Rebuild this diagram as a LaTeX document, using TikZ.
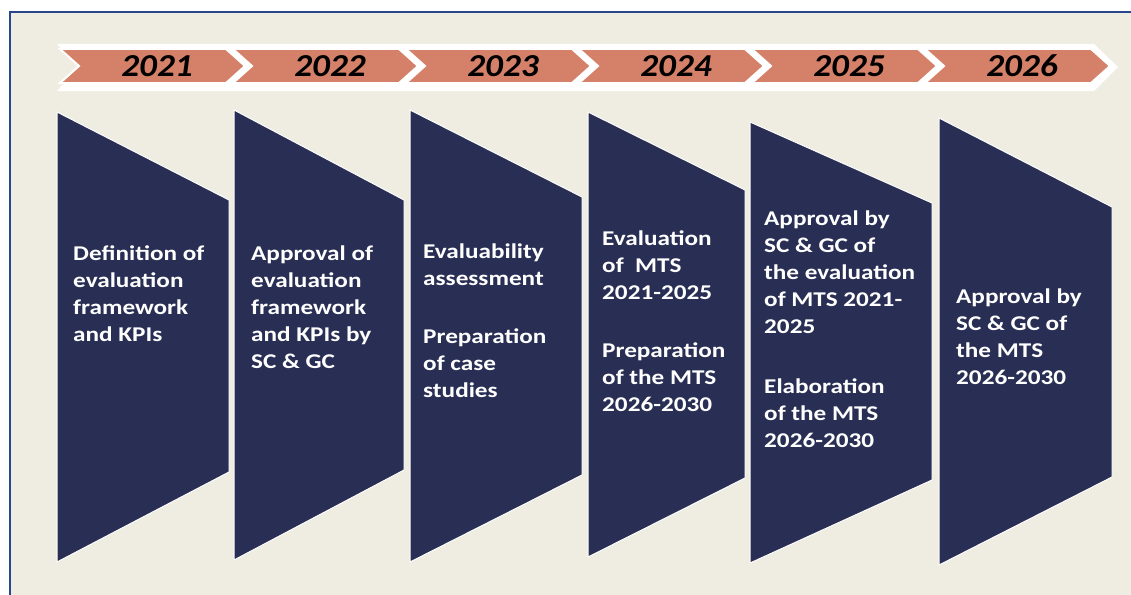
\documentclass[tikz,border=0pt]{standalone}
\usepackage{fontspec}
\setmainfont{Carlito}
\newfontfamily\panelfont[FakeStretch=1.2]{Carlito}
\newfontfamily\yearfont[FakeStretch=1.1]{Carlito}
\definecolor{cream}{RGB}{239,236,225}
\definecolor{navy}{RGB}{41,47,84}
\definecolor{salmon}{RGB}{213,128,104}
\definecolor{frameblue}{RGB}{40,70,140}
\begin{document}
\begin{tikzpicture}[x=1pt,y=-1pt,
    panel/.style={fill=navy,draw=white,line width=1pt},
    yearbar/.style={fill=salmon,draw=white,line width=2pt},
    year/.style={font=\yearfont\fontsize{32}{32}\selectfont\bfseries\itshape,text=black},
    info/.style={anchor=north west,inner sep=0pt,align=left,text=white,
        font=\panelfont\fontsize{21}{27}\selectfont\bfseries}]
	\useasboundingbox (0,0) rectangle (1131,594);
	\clip (0,0) rectangle (1131,594);
	\fill [white] (0,0) rectangle (1131,594);
	\draw [frameblue,line width=2pt,fill=cream] (9.5,12) rectangle (1145,610);
	\fill [white] (57,44) -- (1094,44) -- (1118,67) -- (1094,91) -- (57,91) -- (79,67) -- cycle;
	\foreach \yr [count=\i from 0] in {2021,2022,2023,2024,2025,2026} {
		\path [yearbar] ({60+173*\i},49) -- ++(166,0) -- ++(19,17) -- ++(-19,17) -- ++(-166,0) -- ++(19,-17) -- cycle;
		\node [year] (y\yr) at ({157+173*\i},66) {\yr};
	}
	\path [panel] (57,112) -- (229,200) -- (229,472) -- (57,562) -- cycle;
	\path [panel] (234,110) -- (404,200) -- (404,470) -- (234,560) -- cycle;
	\path [panel] (410,110) -- (582,197) -- (582,475) -- (410,562) -- cycle;
	\path [panel] (588,112) -- (745,190) -- (745,478) -- (588,557) -- cycle;
	\path [panel] (750,122) -- (932,203) -- (932,480) -- (750,563) -- cycle;
	\path [panel] (939,118) -- (1112,207) -- (1112,477) -- (939,565) -- cycle;
	\node [info] (def) at (73,241.1) {\strut Definition of\\evaluation\\framework\\and KPIs};
	\node [info] (appr) at (251,241.1) {\strut Approval of\\evaluation\\framework\\and KPIs by\\SC \& GC};
	\node [info] (evab) at (423,239.1) {\strut Evaluability\\assessment\\[31pt]Preparation\\of case\\studies};
	\node [info] (eval) at (602,226.1) {\strut Evaluation\\of~~MTS\\2021-2025\\[31pt]Preparation\\of the MTS\\2026-2030};
	\node [info] (elab) at (764,206.1) {\strut Approval by\\SC \& GC of\\the evaluation\\of MTS 2021-\\2025\\[33pt]Elaboration\\of the MTS\\2026-2030};
	\node [info] (mts) at (956,284.1) {\strut Approval by\\SC \& GC of\\the MTS\\2026-2030};
\end{tikzpicture}
\end{document}
